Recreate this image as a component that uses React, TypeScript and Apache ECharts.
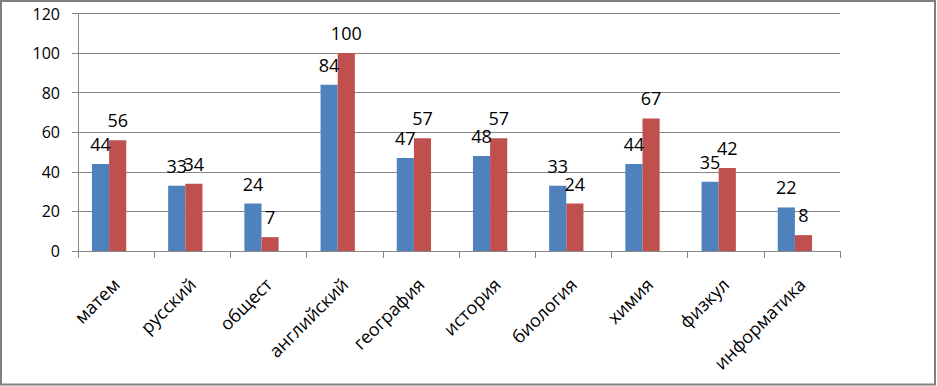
import React, { useEffect, useRef } from "react";
import * as echarts from "echarts";

const categories = ["матем", "русский", "общест", "английский", "география", "история", "биология", "химия", "физкул", "информатика"];
const seriesBlue = [44, 33, 24, 84, 47, 48, 33, 44, 35, 22];
const seriesRed = [56, 34, 7, 100, 57, 57, 24, 67, 42, 8];
const yTicks = { min: 0, max: 120, interval: 20 };

const FONT = "'Open Sans', 'Noto Sans', sans-serif";

export default function App() {
  const ref = useRef<HTMLDivElement>(null);
  useEffect(() => {
    if (!ref.current) return;
    const chart = echarts.init(ref.current, null, { renderer: "svg" });
    const label = {
      show: true,
      position: "top" as const,
      distance: 11,
      color: "#000",
      fontFamily: FONT,
      fontSize: 18,
    };
    chart.setOption({
      animation: false,
      backgroundColor: "#fff",
      textStyle: { fontFamily: FONT },
      grid: [
        { left: 78, right: 97, top: 13.5, bottom: 135, containLabel: false },
        { left: 71, right: 104, top: 13.5, bottom: 135, containLabel: false },
      ],
      xAxis: [
        {
          type: "category",
          gridIndex: 0,
          data: categories,
          axisLine: { show: true, lineStyle: { color: "#868686", width: 1 } },
          axisTick: { show: true, alignWithLabel: false, length: 7, lineStyle: { color: "#868686" } },
          axisLabel: {
            rotate: 45,
            margin: 30,
            color: "#000",
            fontFamily: FONT,
            fontSize: 18,
            interval: 0,
          },
        },
        {
          type: "category",
          gridIndex: 1,
          data: categories,
          show: false,
        },
      ],
      yAxis: [
        {
          type: "value",
          gridIndex: 0,
          min: yTicks.min,
          max: yTicks.max,
          interval: yTicks.interval,
          axisLine: { show: true, lineStyle: { color: "#868686", width: 1 } },
          axisTick: { show: true, length: 6, lineStyle: { color: "#868686" } },
          splitLine: { show: true, lineStyle: { color: "#868686", width: 1 } },
          axisLabel: { margin: 18, color: "#000", fontFamily: FONT, fontSize: 16 },
        },
        {
          type: "value",
          gridIndex: 1,
          min: yTicks.min,
          max: yTicks.max,
          interval: yTicks.interval,
          show: false,
          splitLine: { show: false },
        },
      ],
      series: [
        {
          type: "bar",
          xAxisIndex: 1,
          yAxisIndex: 1,
          data: seriesBlue,
          itemStyle: { color: "#4F81BD" },
          barGap: "0%",
          barCategoryGap: "55%",
          label,
        },
        {
          type: "bar",
          xAxisIndex: 1,
          yAxisIndex: 1,
          data: seriesRed,
          itemStyle: { color: "#C0504D" },
          barGap: "0%",
          barCategoryGap: "55%",
          label,
        },
      ],
      graphic: [
        {
          type: "rect",
          shape: { x: 1, y: 1, width: 934, height: 383.5 },
          style: { fill: "none", stroke: "#7f7f7f", lineWidth: 2 },
          silent: true,
        },
      ],
    });
    return () => chart.dispose();
  }, []);
  return (
    <div
      ref={ref}
      style={{ position: "fixed", left: 0, top: 0, width: 937, height: 386 }}
    />
  );
}
